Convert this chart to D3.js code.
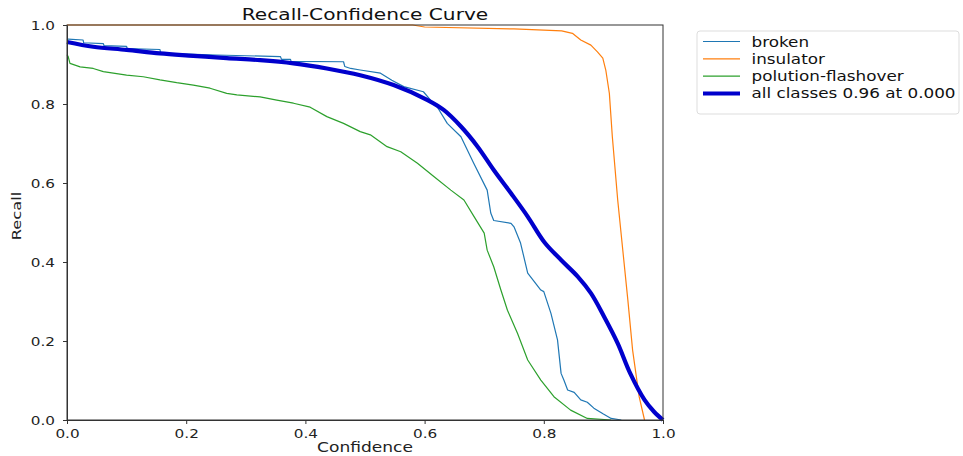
<!DOCTYPE html>
<html>
<head>
<meta charset="utf-8">
<script src="https://cdn.jsdelivr.net/npm/d3@7/dist/d3.min.js"></script>
<style>
  html, body { margin: 0; padding: 0; background: #fff; }
  svg { display: block; font-family: "DejaVu Sans", sans-serif; }
</style>
</head>
<body>
<svg id="chart" width="963" height="456"></svg>
<script>
// ---- data ----
const title = "Recall-Confidence Curve";
const xLabel = "Confidence";
const yLabel = "Recall";
const tickValues = [0.0, 0.2, 0.4, 0.6, 0.8, 1.0];
const seriesNames = ["broken", "insulator", "polution-flashover", "all classes 0.96 at 0.000"];

const brokenConf   = [0.000, 0.002, 0.027, 0.028, 0.061, 0.062, 0.100, 0.101, 0.156, 0.157, 0.168, 0.250, 0.358, 0.360, 0.375, 0.376, 0.464, 0.466, 0.476, 0.492, 0.526, 0.545, 0.565, 0.598, 0.610, 0.621, 0.638, 0.661, 0.682, 0.705, 0.711, 0.716, 0.745, 0.750, 0.761, 0.773, 0.795, 0.800, 0.812, 0.823, 0.829, 0.834, 0.840, 0.851, 0.862, 0.873, 0.884, 0.900, 0.913, 0.930];
const brokenRecall = [0.965, 0.964, 0.962, 0.955, 0.953, 0.948, 0.946, 0.940, 0.938, 0.930, 0.928, 0.924, 0.920, 0.913, 0.913, 0.908, 0.907, 0.895, 0.890, 0.886, 0.878, 0.860, 0.844, 0.831, 0.810, 0.793, 0.751, 0.717, 0.651, 0.582, 0.524, 0.505, 0.498, 0.489, 0.448, 0.372, 0.329, 0.325, 0.270, 0.203, 0.118, 0.100, 0.076, 0.070, 0.051, 0.045, 0.030, 0.015, 0.004, 0.000];

const insulatorConf   = [0.000, 0.580, 0.600, 0.750, 0.830, 0.848, 0.862, 0.879, 0.890, 0.899, 0.904, 0.910, 0.915, 0.924, 0.941, 0.949, 0.960, 0.969];
const insulatorRecall = [1.000, 1.000, 0.995, 0.990, 0.985, 0.979, 0.962, 0.949, 0.932, 0.916, 0.886, 0.827, 0.717, 0.557, 0.304, 0.177, 0.059, 0.000];

const polutionConf   = [0.000, 0.002, 0.005, 0.022, 0.044, 0.061, 0.100, 0.128, 0.156, 0.184, 0.212, 0.240, 0.268, 0.285, 0.324, 0.352, 0.380, 0.408, 0.436, 0.464, 0.492, 0.509, 0.537, 0.560, 0.588, 0.616, 0.644, 0.666, 0.683, 0.700, 0.705, 0.716, 0.728, 0.739, 0.756, 0.773, 0.795, 0.817, 0.845, 0.873, 0.913];
const polutionRecall = [0.925, 0.920, 0.903, 0.894, 0.890, 0.882, 0.873, 0.869, 0.861, 0.854, 0.848, 0.840, 0.827, 0.823, 0.818, 0.810, 0.802, 0.792, 0.768, 0.751, 0.730, 0.722, 0.692, 0.679, 0.650, 0.616, 0.582, 0.557, 0.515, 0.473, 0.430, 0.388, 0.329, 0.278, 0.219, 0.152, 0.101, 0.059, 0.025, 0.004, 0.000];

const allConf   = [0.000, 0.044, 0.100, 0.156, 0.212, 0.268, 0.324, 0.380, 0.436, 0.492, 0.548, 0.605, 0.632, 0.661, 0.689, 0.716, 0.745, 0.773, 0.801, 0.829, 0.857, 0.879, 0.901, 0.924, 0.945, 0.969, 0.985, 1.000];
const allRecall = [0.957, 0.945, 0.937, 0.928, 0.922, 0.916, 0.911, 0.903, 0.890, 0.873, 0.848, 0.810, 0.785, 0.743, 0.692, 0.633, 0.574, 0.515, 0.450, 0.405, 0.363, 0.321, 0.262, 0.194, 0.118, 0.051, 0.021, 0.000];

const colors = ["#1f77b4", "#ff7f0e", "#2ca02c", "#0000cc"];

// ---- layout ----
const svg = d3.select("#chart");
const mLeft = 67, mRight = 663, mTop = 25, mBottom = 420;
const textStretch = 1.22;

const x = d3.scaleLinear().domain([0, 1]).range([mLeft, mRight]);
const y = d3.scaleLinear().domain([0, 1]).range([mBottom, mTop]);

svg.append("defs").append("clipPath").attr("id", "plotclip")
  .append("rect").attr("x", mLeft - 3).attr("y", mTop - 3)
  .attr("width", mRight - mLeft + 6).attr("height", mBottom - mTop + 6);

function makeSeries(cs, rs) { return cs.map((c, i) => ({ c: c, r: rs[i] })); }
const series = [
  { name: seriesNames[0], data: makeSeries(brokenConf, brokenRecall), color: colors[0], width: 1.2, curve: d3.curveLinear },
  { name: seriesNames[1], data: makeSeries(insulatorConf, insulatorRecall), color: colors[1], width: 1.2, curve: d3.curveLinear },
  { name: seriesNames[2], data: makeSeries(polutionConf, polutionRecall), color: colors[2], width: 1.2, curve: d3.curveLinear },
  { name: seriesNames[3], data: makeSeries(allConf, allRecall), color: colors[3], width: 4.2, curve: d3.curveCatmullRom.alpha(0.5) }
];

const g = svg.append("g").attr("clip-path", "url(#plotclip)");
series.forEach(s => {
  const line = d3.line().x(d => x(d.c)).y(d => y(d.r)).curve(s.curve);
  g.append("path").datum(s.data)
    .attr("fill", "none").attr("stroke", s.color)
    .attr("stroke-width", s.width).attr("stroke-linejoin", "round")
    .attr("d", line);
});

// frame
svg.append("rect").attr("x", mLeft).attr("y", mTop)
  .attr("width", mRight - mLeft).attr("height", mBottom - mTop)
  .attr("fill", "none").attr("stroke", "#333").attr("stroke-width", 1);

// axes
const xAxis = svg.append("g").attr("transform", `translate(0,${mBottom})`)
  .call(d3.axisBottom(x).tickValues(tickValues).tickFormat(d3.format(".1f")).tickSizeOuter(0).tickSizeInner(4));
const yAxis = svg.append("g").attr("transform", `translate(${mLeft},0)`)
  .call(d3.axisLeft(y).tickValues(tickValues).tickFormat(d3.format(".1f")).tickSizeOuter(0).tickSizeInner(4));
[xAxis, yAxis].forEach(a => {
  a.select(".domain").attr("stroke", "#333");
  a.selectAll(".tick line").attr("stroke", "#333");
  a.selectAll(".tick text").attr("fill", "#222").style("font-size", "12.5px").style("font-family", "DejaVu Sans, sans-serif");
});
xAxis.selectAll(".tick text").attr("x", 0).attr("y", 0).attr("dy", null)
  .attr("transform", `translate(0,17.5) scale(${textStretch},1)`);
yAxis.selectAll(".tick text").attr("x", 0).attr("dy", "0.35em")
  .attr("transform", `translate(-12,0) scale(${textStretch},1)`);

// titles
svg.append("text").attr("transform", `translate(${(mLeft + mRight) / 2},19.5) scale(1.26,1)`)
  .attr("text-anchor", "middle").style("font-size", "16px").attr("fill", "#111").text(title);
svg.append("text").attr("transform", `translate(${(mLeft + mRight) / 2},452) scale(${textStretch},1)`)
  .attr("text-anchor", "middle").style("font-size", "14px").attr("fill", "#222").text(xLabel);
svg.append("text").attr("transform", `translate(20.5,216) rotate(-90) scale(1.3,1)`)
  .attr("text-anchor", "middle").style("font-size", "12.5px")
  .attr("fill", "#222").text(yLabel);

// legend
const lg = svg.append("g");
lg.append("rect").attr("x", 697).attr("y", 31).attr("width", 262).attr("height", 83)
  .attr("rx", 3).attr("fill", "#fff").attr("stroke", "#ddd").attr("stroke-width", 1);
series.forEach((s, i) => {
  const cy = 41.5 + i * 17.3;
  lg.append("line").attr("x1", 703).attr("x2", 740).attr("y1", cy).attr("y2", cy)
    .attr("stroke", s.color).attr("stroke-width", i === 3 ? 4 : 1.2);
  lg.append("text").attr("transform", `translate(751.5,${cy + 5}) scale(1.2,1)`)
    .style("font-size", "14px").attr("fill", "#111").text(s.name);
});
</script>
</body>
</html>
